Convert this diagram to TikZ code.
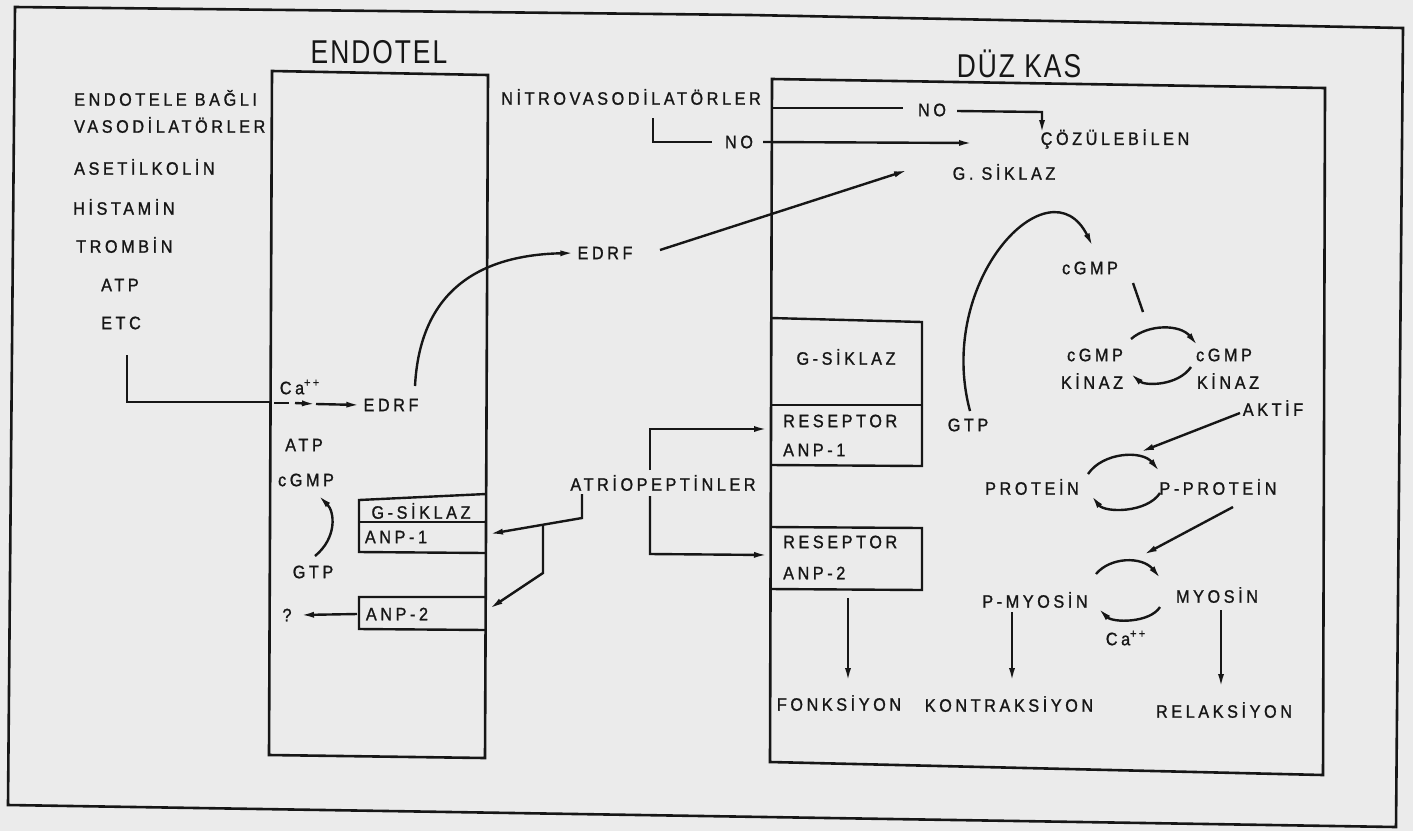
\documentclass[tikz,border=0pt]{standalone}
\usepackage{fontspec}
\setmainfont{Liberation Sans}
\newfontfamily\dfont{Liberation Sans}[FakeStretch=0.9,LetterSpace=20,FakeBold=1.2]
\newfontfamily\tfont{Liberation Sans}[FakeStretch=0.8,LetterSpace=6]
\usetikzlibrary{arrows.meta}
\definecolor{bg}{HTML}{EBEBEB}
\definecolor{ink}{HTML}{161616}
\begin{document}
\begin{tikzpicture}[x=0.5pt,y=-0.5pt,color=ink,line width=1.2pt,
  lbl/.style={font=\dfont\fontsize{9}{11}\selectfont,text=ink,inner sep=0pt},
  ttl/.style={font=\tfont\fontsize{16.5}{18}\selectfont,text=ink,inner sep=0pt},
  arr/.style={-{Latex[length=7pt,width=3pt]}},
  frame/.style={line width=1.3pt,line join=miter}]
\fill[bg] (0,0) rectangle (1413,831);
\useasboundingbox (0,0) rectangle (1413,831);

% frames
\draw[frame] (15,7) -- (750,15) -- (1403,28) -- (1396,827) -- (8,805) -- cycle;
\draw[frame] (272,71) -- (488,75) -- (485,758) -- (269,755) -- cycle;
\draw[frame] (772,79) -- (1325,88) -- (1323,775) -- (770,762) -- cycle;

% titles
\node[ttl] (endotel) at (379,52) {ENDOTEL};
\node[ttl] (duzkas) at (1019,64) {DÜZ KAS};

% left list
\node[lbl,anchor=west] (ebv1) at (73,98) {ENDOTELE BAĞLI};
\node[lbl,anchor=west] (ebv2) at (73,125) {VASODİLATÖRLER};
\node[lbl,anchor=west] (aset) at (73,167) {ASETİLKOLİN};
\node[lbl,anchor=west] (hist) at (72,207) {HİSTAMİN};
\node[lbl,anchor=west] (tromb) at (75,245) {TROMBİN};
\node[lbl,anchor=west] (atp1) at (100,285) {ATP};
\node[lbl,anchor=west] (etc) at (100,323) {ETC};

% ETC -> EDRF
\coordinate (etcA) at (127,355);
\coordinate (etcB) at (127,402);
\coordinate (etcC) at (270,402);
\draw (etcA) -- (etcB) -- (etcC);
\node[lbl] (ca1) at (300,387) {Ca\textsuperscript{++}};
\node[lbl] (edrf2) at (391,405) {EDRF};
\coordinate (da1) at (274,403);
\coordinate (da2) at (289,403);
\coordinate (da3) at (295,403);
\coordinate (da4) at (316,404);
\draw (da1) -- (da2);
\draw[arr] (da3) -- (da4);
\draw[arr] (da4) -- ([xshift=-1pt]edrf2.west);

% EDRF curve and EDRF -> G. SIKLAZ
\node[lbl] (edrf1) at (605,253) {EDRF};
\coordinate (cvA) at (415,386);
\draw[arr] (cvA) .. controls (420,290) and (480,255) .. ([xshift=-1pt]edrf1.west);
\coordinate (e1s) at (660,250);
\coordinate (gsT) at (908,170);
\draw[arr] (e1s) -- (gsT);

% ATP / cGMP / GTP inside endotel
\node[lbl] (atp2) at (304,445) {ATP};
\node[lbl] (cgmp1) at (306,480) {cGMP};
\node[lbl] (gtp1) at (313,572) {GTP};
\coordinate (gA) at (315,556);
\coordinate (gB) at (318,495);
\draw[arr] (gA) .. controls (337,538) and (335,512) .. (gB);

% endotel receptor boxes
\draw (486,494) -- (359,500) -- (359,552) -- (486,553);
\draw (359,522) -- (486,522);
\draw (486,597) -- (359,597) -- (359,629) -- (486,630);
\node[lbl] (gsik1) at (421,511) {G-SİKLAZ};
\node[lbl] (anp1a) at (396,537) {ANP-1};
\node[lbl] (anp2a) at (397,614) {ANP-2};
\node[lbl] (q) at (287,615) {?};
\coordinate (qs) at (357,614);
\coordinate (qt) at (300,615);
\draw[arr] (qs) -- (qt);

% nitrovasodilators
\node[lbl] (nitro) at (631,97) {NİTROVASODİLATÖRLER};
\node[lbl] (no1) at (739,142) {NO};
\node[lbl] (no2) at (932,110) {NO};
\node[lbl] (cozu) at (1115,139) {ÇÖZÜLEBİLEN};
\node[lbl] (gsik3) at (1004,172) {G. SİKLAZ};
\coordinate (nb1) at (653,118);
\coordinate (nb2) at (653,142);
\coordinate (nb3) at (712,142);
\draw (nb1) -- (nb2) -- (nb3);
\coordinate (no1s) at (763,142);
\coordinate (no1t) at (973,143);
\draw[arr] (no1s) -- (no1t);
\coordinate (no2a) at (772,108);
\coordinate (no2b) at (903,108);
\draw (no2a) -- (no2b);
\coordinate (no2c) at (957,111);
\coordinate (no2d) at (1042,112);
\coordinate (no2e) at (1042,134);
\draw[arr] (no2c) -- (no2d) -- (no2e);

% atriopeptins
\node[lbl] (atrio) at (663,483) {ATRİOPEPTİNLER};
\coordinate (pa1) at (582,494);
\coordinate (pa2) at (582,518);
\coordinate (pa3) at (489,534);
\draw[arr] (pa1) -- (pa2) -- (pa3);
\coordinate (pb1) at (543,525);
\coordinate (pb2) at (543,573);
\coordinate (pb3) at (489,609);
\draw[arr] (pb1) -- (pb2) -- (pb3);
\coordinate (pc1) at (650,470);
\coordinate (pc2) at (650,429);
\coordinate (pc3) at (768,429);
\draw[arr] (pc1) -- (pc2) -- (pc3);
\coordinate (pd1) at (650,496);
\coordinate (pd2) at (650,554);
\coordinate (pd3) at (768,555);
\draw[arr] (pd1) -- (pd2) -- (pd3);

% smooth muscle receptor boxes
\draw (771,318) -- (922,322) -- (922,466) -- (771,465);
\draw (771,405) -- (922,405);
\draw (770,527) -- (922,528) -- (922,590) -- (770,589);
\node[lbl] (gsik2) at (846,357) {G-SİKLAZ};
\node[lbl,anchor=west] (res1) at (782,421) {RESEPTOR};
\node[lbl,anchor=west] (anp1b) at (782,450) {ANP-1};
\node[lbl,anchor=west] (res2) at (782,542) {RESEPTOR};
\node[lbl,anchor=west] (anp2b) at (782,573) {ANP-2};

% GTP -> cGMP
\node[lbl] (gtp2) at (968,425) {GTP};
\node[lbl] (cgmp2) at (1090,268) {cGMP};
\coordinate (bcA) at (970,411);
\coordinate (bcB) at (1093,247);
\draw[arr] (bcA) .. controls (935,280) and (1050,160) .. (bcB);
\coordinate (cl1) at (1133,283);
\coordinate (cl2) at (1143,312);
\draw (cl1) -- (cl2);

% kinase cycle
\node[lbl] (k1a) at (1095,355) {cGMP};
\node[lbl] (k1b) at (1092,381) {KİNAZ};
\node[lbl] (k2a) at (1224,355) {cGMP};
\node[lbl] (k2b) at (1228,381) {KİNAZ};
\coordinate (ka1) at (1131,339);
\coordinate (ka2) at (1198,346);
\draw[arr] (ka1) .. controls (1148,324) and (1180,324) .. (ka2);
\coordinate (kb1) at (1191,367);
\coordinate (kb2) at (1130,373);
\draw[arr] (kb1) .. controls (1178,386) and (1145,386) .. (kb2);

% protein cycle
\node[lbl] (aktif) at (1273,408) {AKTİF};
\coordinate (ak1) at (1240,413);
\coordinate (ak2) at (1140,452);
\draw[arr] (ak1) -- (ak2);
\node[lbl] (prot) at (1032,487) {PROTEİN};
\node[lbl] (pprot) at (1218,487) {P-PROTEİN};
\coordinate (pa) at (1088,474);
\coordinate (pb) at (1160,472);
\draw[arr] (pa) .. controls (1103,452) and (1142,450) .. (pb);
\coordinate (pc) at (1160,493);
\coordinate (pd) at (1091,495);
\draw[arr] (pc) .. controls (1147,513) and (1105,513) .. (pd);
\coordinate (pp1) at (1233,507);
\coordinate (pp2) at (1143,555);
\draw[arr] (pp1) -- (pp2);

% myosin cycle
\node[lbl] (pmyo) at (1035,600) {P-MYOSİN};
\node[lbl] (myo) at (1217,595) {MYOSİN};
\node[lbl] (ca2) at (1126,638) {Ca\textsuperscript{++}};
\coordinate (ma) at (1096,574);
\coordinate (mb) at (1161,579);
\draw[arr] (ma) .. controls (1110,557) and (1142,556) .. (mb);
\coordinate (mc) at (1160,607);
\coordinate (md) at (1098,608);
\draw[arr] (mc) .. controls (1150,623) and (1113,623) .. (md);

% outcomes
\node[lbl] (fonk) at (839,703) {FONKSİYON};
\node[lbl] (kontr) at (1009,704) {KONTRAKSİYON};
\node[lbl] (relak) at (1224,710) {RELAKSİYON};
\coordinate (f1) at (848,598);
\coordinate (f2) at (848,682);
\draw[arr] (f1) -- (f2);
\coordinate (c1) at (1012,612);
\coordinate (c2) at (1012,682);
\draw[arr] (c1) -- (c2);
\coordinate (r1) at (1221,610);
\coordinate (r2) at (1221,688);
\draw[arr] (r1) -- (r2);
\end{tikzpicture}
\end{document}
